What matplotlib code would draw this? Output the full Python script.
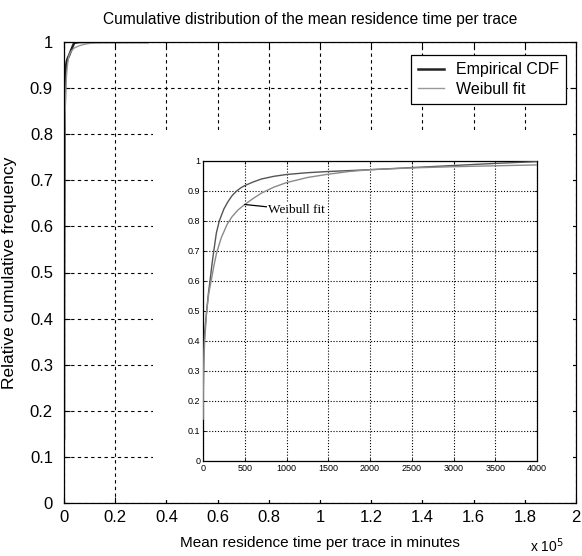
import matplotlib
matplotlib.use("Agg")
import matplotlib.pyplot as plt
from matplotlib.patches import Rectangle

# ---- data (minutes, relative cumulative frequency) ----
emp_x = [0, 3, 6, 10, 20, 44, 65, 84, 105, 124, 160, 195, 250, 300, 350, 403, 450, 500,
         600, 700, 850, 1000, 1250, 1500, 2000, 2500, 3000, 3500, 4000, 6000, 32700]
emp_y = [0.14, 0.22, 0.30, 0.36, 0.43, 0.50, 0.56, 0.60, 0.65, 0.69, 0.76, 0.80, 0.84,
         0.865, 0.885, 0.90, 0.910, 0.918, 0.930, 0.940, 0.949, 0.955, 0.961, 0.965,
         0.971, 0.978, 0.985, 0.992, 0.998, 1.0, 1.0]
wei_x = [1, 3, 6, 10, 20, 44, 70, 104, 130, 164, 220, 291, 350, 420, 500, 600, 700, 850,
         1000, 1250, 1500, 1750, 2000, 2500, 3000, 3500, 4000, 6000, 8000, 11000, 15000, 32700]
wei_y = [0.14, 0.22, 0.28, 0.33, 0.40, 0.50, 0.56, 0.61, 0.65, 0.695, 0.745, 0.79, 0.815,
         0.837, 0.855, 0.875, 0.893, 0.913, 0.928, 0.945, 0.956, 0.965, 0.971, 0.977,
         0.981, 0.984, 0.987, 0.992, 0.995, 0.998, 0.999, 1.0]

main_xticks = [0, 20000, 40000, 60000, 80000, 100000, 120000, 140000, 160000, 180000, 200000]
main_xlabels = ["0", "0.2", "0.4", "0.6", "0.8", "1", "1.2", "1.4", "1.6", "1.8", "2"]
main_yticks = [0, 0.1, 0.2, 0.3, 0.4, 0.5, 0.6, 0.7, 0.8, 0.9, 1.0]
main_ylabels = ["0", "0.1", "0.2", "0.3", "0.4", "0.5", "0.6", "0.7", "0.8", "0.9", "1"]
ins_xticks = [0, 500, 1000, 1500, 2000, 2500, 3000, 3500, 4000]
ins_yticks = [0, 0.1, 0.2, 0.3, 0.4, 0.5, 0.6, 0.7, 0.8, 0.9, 1.0]
ins_ylabels = ["0", "0.1", "0.2", "0.3", "0.4", "0.5", "0.6", "0.7", "0.8", "0.9", "1"]

plt.rcParams["font.family"] = ["Liberation Sans", "DejaVu Sans"]

W, H = 582, 556
fig = plt.figure(figsize=(W / 100, H / 100), dpi=100)

def fx(px):
    return px / W

def fy(py):
    return 1 - py / H

L, R, T, B = 64, 576, 42, 503
ax = fig.add_axes([fx(L), fy(B), (R - L) / W, (B - T) / H])
ax.plot(emp_x, emp_y, color="#222222", lw=1.8, label="Empirical CDF", zorder=2)
ax.plot(wei_x, wei_y, color="#999999", lw=1.0, label="Weibull fit", zorder=2)
ax.set_xlim(0, 200000)
ax.set_ylim(0, 1)
ax.set_xticks(main_xticks)
ax.set_xticklabels(main_xlabels)
ax.set_yticks(main_yticks)
ax.set_yticklabels(main_ylabels)
ax.tick_params(direction="in", length=4, width=0.8, labelsize=12, top=True, right=True)
ax.tick_params(axis="x", pad=5)
ax.tick_params(axis="y", pad=8)
ax.grid(True, color="black", linestyle=(0, (3, 3)), linewidth=0.8)
for s in ax.spines.values():
    s.set_linewidth(0.9)
ax.set_title("Cumulative distribution of the mean residence time per trace", fontsize=11.2,
             pad=13, x=(310 - L) / (R - L))
ax.set_xlabel("Mean residence time per trace in minutes", fontsize=11, labelpad=8)
ax.set_ylabel("Relative cumulative frequency", fontsize=12.5, labelpad=9)
fig.text(fx(530), fy(552), r"x 10$^{5}$", fontsize=10, ha="left", va="baseline")

leg = ax.legend(loc="upper right", bbox_to_anchor=((566 - L) / (R - L), (B - 55) / (B - T)),
                borderaxespad=0, fancybox=False, edgecolor="black", framealpha=1,
                fontsize=11.5, handlelength=1.6, handletextpad=0.75, borderpad=0.45,
                labelspacing=0.3)
leg.get_frame().set_linewidth(0.9)
leg.set_zorder(5)

# white backdrop of the pasted inset
ax.add_patch(Rectangle((fx(153), fy(B - 3)), fx(R - 3) - fx(153), fy(130) - fy(B - 3),
                       transform=fig.transFigure, facecolor="white", edgecolor="none",
                       zorder=1.8, clip_on=False))

# ---- inset ----
iL, iR, iT, iB = 203, 537, 161, 461
ins = fig.add_axes([fx(iL), fy(iB), (iR - iL) / W, (iB - iT) / H])
ins.plot(emp_x, emp_y, color="#555555", lw=1.0, zorder=3)
ins.plot(wei_x, wei_y, color="#8a8a8a", lw=1.0, zorder=3)
ins.set_xlim(0, 4000)
ins.set_ylim(0, 1)
ins.set_xticks(ins_xticks)
ins.set_xticklabels([str(v) for v in ins_xticks])
ins.set_yticks(ins_yticks)
ins.set_yticklabels(ins_ylabels)
ins.tick_params(direction="in", length=2.5, width=0.6, labelsize=6.5, top=True, right=True, pad=2)
ins.grid(True, color="black", linestyle=(0, (1, 1.6)), linewidth=0.8)
for s in ins.spines.values():
    s.set_linewidth(0.9)
ins.annotate("Weibull fit", xy=(500, 0.855), xytext=(780, 0.837),
             fontsize=9.5, family=["Liberation Serif", "DejaVu Serif"],
             va="center", ha="left",
             arrowprops=dict(arrowstyle="-", color="black", lw=0.9, shrinkA=0, shrinkB=0),
             bbox=dict(facecolor="white", edgecolor="none", pad=1))

fig.savefig("out.png", dpi=100)
